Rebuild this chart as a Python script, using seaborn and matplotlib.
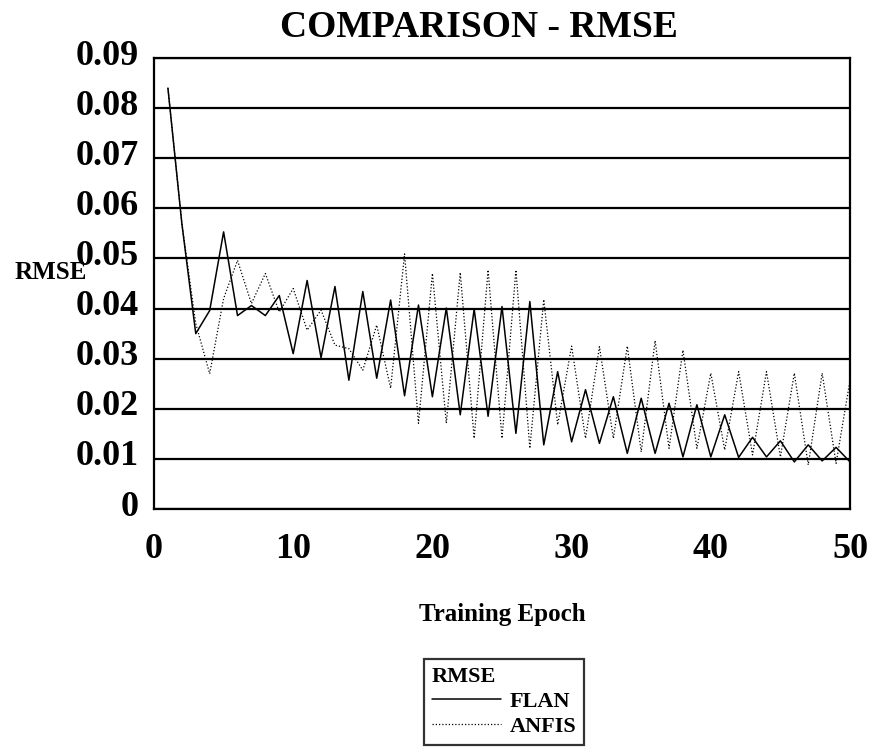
import matplotlib
matplotlib.use("Agg")
import matplotlib.pyplot as plt
import matplotlib.transforms as mtransforms
import numpy as np
import pandas as pd
import seaborn as sns

# Training epochs and RMSE per epoch for the two models
epochs = list(range(1, 51))
flan_rmse = [0.084, 0.057, 0.035, 0.0396, 0.0553, 0.0386, 0.0406, 0.0386, 0.0426, 0.031,
             0.0456, 0.0302, 0.0444, 0.0257, 0.0434, 0.0261, 0.0417, 0.0226, 0.0407, 0.0224,
             0.0401, 0.0188, 0.0399, 0.0185, 0.0404, 0.0151, 0.0414, 0.0128, 0.0274, 0.0134,
             0.0238, 0.0131, 0.0224, 0.0111, 0.0221, 0.0111, 0.0211, 0.0104, 0.0208, 0.0104,
             0.0188, 0.0103, 0.0143, 0.0104, 0.0136, 0.0094, 0.0128, 0.0096, 0.0123, 0.0094]
anfis_rmse = [0.084, 0.057, 0.037, 0.027, 0.042, 0.0496, 0.041, 0.047, 0.0393, 0.044,
              0.0357, 0.0397, 0.0327, 0.032, 0.0277, 0.0367, 0.0241, 0.0509, 0.0171, 0.047,
              0.0171, 0.0472, 0.0141, 0.0477, 0.0141, 0.0477, 0.0121, 0.0418, 0.0168, 0.0325,
              0.0141, 0.0324, 0.0141, 0.0325, 0.0114, 0.0336, 0.0121, 0.0317, 0.0121, 0.0271,
              0.0118, 0.0274, 0.0108, 0.0274, 0.0104, 0.0271, 0.0088, 0.0271, 0.0091, 0.0257]
model_names = ["FLAN", "ANFIS"]
y_ticks = [0, 0.01, 0.02, 0.03, 0.04, 0.05, 0.06, 0.07, 0.08, 0.09]
y_tick_labels = ["0", "0.01", "0.02", "0.03", "0.04", "0.05", "0.06", "0.07", "0.08", "0.09"]
x_ticks = [0, 10, 20, 30, 40, 50]

df = pd.DataFrame({
    "Epoch": epochs * 2,
    "RMSE": flan_rmse + anfis_rmse,
    "Model": [model_names[0]] * len(epochs) + [model_names[1]] * len(epochs),
})

sns.set_theme(style="white")
plt.rcParams["font.family"] = ["Liberation Serif", "DejaVu Serif"]
plt.rcParams["font.weight"] = "bold"
for key in ("text.color", "axes.labelcolor", "xtick.color", "ytick.color"):
    plt.rcParams[key] = "black"

fig = plt.figure(figsize=(8.73, 7.48), dpi=100)
ax = fig.add_axes([154 / 873, 1 - 509 / 748, 696 / 873, 451 / 748])

# horizontal grid lines
for yv in y_ticks:
    ax.axhline(yv, color="black", linewidth=1.6, zorder=1)

sns.lineplot(data=df, x="Epoch", y="RMSE", hue="Model", style="Model",
             palette={"FLAN": "black", "ANFIS": "black"},
             dashes={"FLAN": "", "ANFIS": (1, 1.6)},
             linewidth=1.1, ax=ax, legend=False, zorder=3)
# thinner stroke for the dotted series
ax.lines[-1].set_linewidth(0.9)

ax.set_xlim(0, 50)
ax.set_ylim(0, 0.09)
ax.set_xticks(x_ticks)
ax.set_xticklabels([str(v) for v in x_ticks], fontsize=26, fontweight="bold")
ax.set_yticks(y_ticks)
ax.set_yticklabels(y_tick_labels, fontsize=26, fontweight="bold")
ax.tick_params(axis="both", length=0)
ax.tick_params(axis="y", pad=11)
ax.tick_params(axis="x", pad=17)

# lift y labels slightly above their grid lines
offset = mtransforms.ScaledTranslation(0, 6 / 100, fig.dpi_scale_trans)
for lab in ax.get_yticklabels():
    lab.set_transform(lab.get_transform() + offset)

for sp in ax.spines.values():
    sp.set_visible(True)
    sp.set_color("black")
    sp.set_linewidth(1.6)

fig.text(280 / 873, 1 - 37 / 748, "COMPARISON - RMSE", fontsize=27, fontweight="bold",
         ha="left", va="baseline")
ax.set_xlabel("Training Epoch", fontsize=18, fontweight="bold", labelpad=27)
ax.set_ylabel("RMSE", fontsize=18, fontweight="bold", rotation=0)
ax.yaxis.set_label_coords(-0.149, 0.50)

# legend box below the axis label
handles = [
    plt.Line2D([], [], color="black", linewidth=1.1, linestyle="-"),
    plt.Line2D([], [], color="black", linewidth=0.9, linestyle=(0, (1, 1.6))),
]
leg = fig.legend(handles, model_names, title="RMSE", loc="upper left",
                 bbox_to_anchor=(424 / 873, 1 - 659 / 748), borderaxespad=0,
                 prop={"size": 16, "weight": "bold"},
                 title_fontproperties={"size": 16, "weight": "bold"},
                 frameon=True, fancybox=False, edgecolor="black",
                 handlelength=3.1, handletextpad=0.4, borderpad=0.35,
                 labelspacing=0.2, alignment="left")
leg.get_frame().set_linewidth(1.6)

fig.savefig("out.png", dpi=100)
